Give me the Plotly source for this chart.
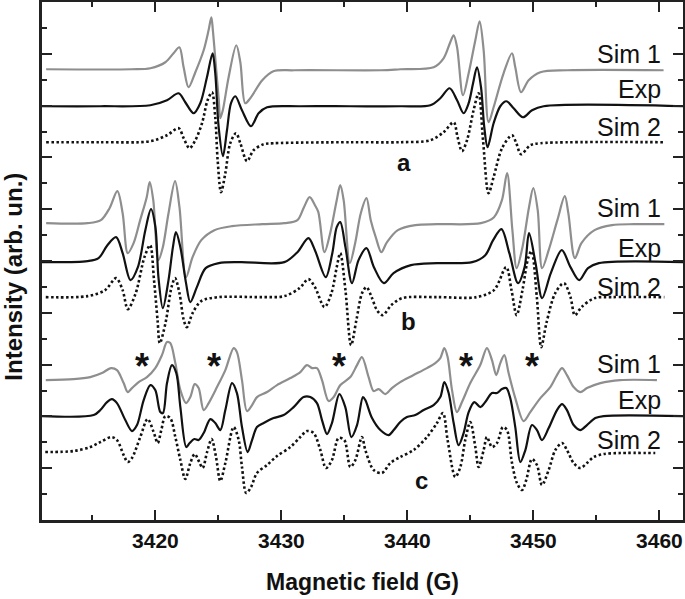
import plotly.graph_objects as go

# ---------------- Panel a ----------------
a_sim1_field = [3411.33, 3418.1, 3419.6, 3420.79, 3421.44, 3421.9, 3422.24, 3422.63, 3423.17, 3423.83, 3424.22, 3424.44,
                3424.56, 3424.81, 3425.03, 3425.15, 3425.35, 3425.81, 3426.42, 3426.74, 3427.13, 3427.53, 3428.48, 3429.36,
                3431.0, 3437.9, 3439.44, 3442.08, 3442.87, 3443.4, 3443.67, 3443.94, 3444.41, 3444.86, 3445.39, 3445.73,
                3446.05, 3446.44, 3446.84, 3447.63, 3448.3, 3448.56, 3449.02, 3449.62, 3450.55, 3452.67, 3460.33]
a_sim1_int = [451, 451, 452, 458, 467, 473, 453, 433, 448, 470, 490, 503,
              490, 453, 420, 402, 410, 443, 475, 458, 417, 422, 440, 449,
              450, 450, 451, 453, 462, 478, 485, 473, 425, 447, 480, 499,
              470, 398, 413, 447, 467, 453, 428, 440, 448, 450, 450]

a_exp_field = [3411.0, 3415.63, 3419.6, 3420.92, 3421.84, 3422.37, 3423.03, 3423.56, 3424.09, 3424.54, 3424.75, 3425.02,
               3425.36, 3425.68, 3426.0, 3426.34, 3426.87, 3427.59, 3428.19, 3428.86, 3431.5, 3435.47, 3439.44, 3441.82,
               3442.61, 3443.35, 3443.94, 3444.46, 3444.86, 3445.21, 3445.52, 3445.84, 3446.1, 3446.36, 3446.84, 3447.37,
               3447.85, 3448.43, 3449.17, 3449.89, 3450.81, 3461.9]
a_exp_int = [414, 414, 415, 420, 427, 418, 407, 417, 443, 467, 447, 393,
             364, 390, 417, 424, 410, 394, 407, 413, 414, 414, 414, 415,
             422, 432, 420, 407, 417, 437, 453, 433, 393, 373, 397, 414,
             419, 412, 403, 410, 414, 414]

a_sim2_field = [3411.33, 3415.63, 3419.6, 3420.92, 3421.84, 3422.24, 3422.71, 3423.17, 3423.7, 3424.14, 3424.49, 3424.75,
                3424.94, 3425.21, 3425.55, 3425.94, 3426.4, 3426.74, 3427.27, 3427.79, 3428.59, 3429.38, 3435.47, 3439.44,
                3441.82, 3442.87, 3443.67, 3443.98, 3444.33, 3444.73, 3445.25, 3445.65, 3446.0, 3446.44, 3446.84, 3447.51,
                3448.3, 3448.64, 3449.02, 3449.75, 3450.55, 3460.33]
a_sim2_int = [378, 378, 379, 385, 392, 382, 372, 380, 397, 420, 428, 403,
              360, 328, 347, 377, 387, 377, 359, 370, 376, 377, 378, 378,
              380, 388, 398, 383, 369, 380, 410, 427, 380, 327, 343, 372,
              385, 377, 366, 375, 377, 378]

# ---------------- Panel b ----------------
b_sim1_field = [3411.33, 3414.62, 3415.67, 3416.36, 3416.98, 3417.4, 3417.81, 3418.27, 3418.79, 3419.31, 3419.55, 3419.83,
                3420.24, 3420.59, 3421.04, 3421.56, 3421.91, 3422.43, 3422.95, 3423.64, 3424.68, 3426.07, 3428.49, 3430.23,
                3431.27, 3431.79, 3432.24, 3432.66, 3432.93, 3433.42, 3433.87, 3434.39, 3434.67, 3434.94, 3435.43, 3435.85,
                3436.3, 3436.75, 3437.09, 3437.51, 3437.93, 3438.38, 3439.24, 3440.63, 3442.36, 3445.83, 3446.87, 3447.5,
                3447.91, 3448.33, 3448.67, 3449.13, 3449.65, 3449.99, 3450.34, 3450.69, 3451.21, 3451.9, 3452.49, 3452.77,
                3453.29, 3453.81, 3454.85, 3456.23, 3457.97, 3460.39]
b_sim1_int = [297, 297, 300, 312, 329, 307, 267, 277, 300, 323, 338, 320,
              260, 273, 307, 339, 313, 243, 263, 280, 290, 294, 296, 297,
              300, 313, 323, 315, 308, 268, 287, 320, 335, 320, 257, 277,
              307, 322, 300, 282, 268, 278, 290, 295, 296, 297, 303, 320,
              347, 290, 252, 273, 313, 332, 310, 252, 270, 300, 324, 307,
              262, 277, 290, 295, 296, 296]

b_exp_field = [3411.0, 3414.62, 3415.49, 3416.19, 3416.88, 3417.4, 3418.02, 3418.61, 3419.2, 3419.65, 3420.0, 3420.24,
               3420.59, 3421.04, 3421.39, 3421.63, 3421.98, 3422.43, 3422.77, 3423.29, 3423.99, 3425.03, 3426.76, 3430.23,
               3431.27, 3432.14, 3432.66, 3433.52, 3434.04, 3434.39, 3434.67, 3435.08, 3435.6, 3436.12, 3436.75, 3437.34,
               3438.13, 3438.9, 3440.28, 3442.36, 3445.14, 3446.18, 3446.8, 3447.46, 3448.09, 3448.78, 3449.3, 3449.65,
               3450.17, 3450.69, 3451.38, 3452.25, 3452.94, 3453.63, 3454.33, 3455.19, 3461.9]
b_exp_int = [258, 259, 262, 275, 283, 267, 240, 253, 290, 311, 293, 243,
             212, 240, 273, 288, 273, 237, 218, 233, 252, 257, 258, 258,
             268, 282, 270, 243, 267, 293, 298, 273, 237, 260, 272, 253,
             237, 247, 255, 257, 258, 265, 280, 291, 267, 237, 253, 287,
             257, 222, 247, 270, 253, 240, 252, 257, 258]

b_sim2_field = [3411.3, 3414.62, 3416.01, 3416.88, 3417.4, 3417.81, 3418.44, 3419.13, 3419.58, 3419.89, 3420.17, 3420.35,
                3420.8, 3421.28, 3421.56, 3421.91, 3422.25, 3422.5, 3422.95, 3423.64, 3425.03, 3428.49, 3430.23, 3431.44,
                3432.14, 3432.66, 3433.42, 3433.97, 3434.39, 3434.67, 3435.08, 3435.53, 3435.95, 3436.4, 3436.75, 3437.16,
                3437.58, 3438.03, 3438.72, 3439.59, 3442.36, 3445.48, 3446.87, 3447.84, 3448.26, 3448.67, 3449.13, 3449.58,
                3449.85, 3450.27, 3450.62, 3451.03, 3451.73, 3452.42, 3452.94, 3453.29, 3453.81, 3454.85, 3456.23, 3460.39]
b_sim2_int = [223, 224, 230, 242, 230, 211, 227, 263, 275, 240, 200, 177,
              197, 233, 242, 227, 200, 193, 207, 219, 223, 223, 224, 232,
              241, 233, 213, 227, 253, 267, 230, 175, 200, 227, 233, 223,
              210, 205, 215, 222, 223, 223, 230, 253, 230, 205, 230, 262,
              269, 223, 173, 197, 227, 237, 223, 205, 213, 222, 223, 223]

# ---------------- Panel c ----------------
c_sim1_field = [3411.3, 3413.51, 3414.83, 3415.76, 3416.47, 3416.95, 3417.48, 3417.8, 3418.14, 3418.67, 3419.33, 3419.99,
                3420.52, 3420.92, 3421.18, 3421.58, 3421.98, 3422.43, 3422.77, 3423.12, 3423.43, 3423.83, 3424.23, 3424.89,
                3425.55, 3426.21, 3426.47, 3426.87, 3427.27, 3427.67, 3428.06, 3428.86, 3429.65, 3430.71, 3431.5, 3432.03,
                3432.43, 3432.82, 3433.22, 3433.75, 3434.15, 3434.68, 3435.47, 3436.0, 3436.39, 3436.92, 3437.32, 3437.72,
                3438.24, 3438.77, 3439.43, 3440.49, 3441.55, 3442.21, 3442.61, 3442.93, 3443.19, 3443.54, 3443.93, 3444.33,
                3444.99, 3445.78, 3446.31, 3446.71, 3447.05, 3447.37, 3447.69, 3448.03, 3448.56, 3449.22, 3449.75, 3450.55,
                3451.34, 3451.87, 3452.27, 3452.66, 3453.19, 3453.72, 3454.25, 3455.31, 3456.89, 3459.8]
c_sim1_int = [140, 141, 143, 147, 152, 150, 137, 128, 132, 138, 143, 152,
              165, 178, 177, 157, 130, 117, 123, 136, 132, 110, 117, 133,
              150, 172, 168, 140, 109, 115, 123, 128, 135, 142, 148, 155,
              152, 152, 140, 119, 123, 135, 143, 155, 163, 143, 129, 131,
              126, 132, 138, 145, 152, 157, 162, 172, 163, 130, 108, 118,
              137, 155, 172, 160, 145, 157, 165, 147, 122, 99, 108, 122,
              133, 145, 152, 145, 133, 128, 132, 137, 140, 140]

c_exp_field = [3411.0, 3415.1, 3415.63, 3416.16, 3416.55, 3416.95, 3417.61, 3418.14, 3418.54, 3419.07, 3419.6, 3419.99,
               3420.39, 3420.6, 3420.92, 3421.31, 3421.66, 3421.98, 3422.45, 3422.72, 3423.09, 3423.43, 3423.83, 3424.36,
               3424.75, 3425.15, 3425.55, 3426.08, 3426.47, 3426.87, 3427.32, 3427.67, 3428.06, 3428.59, 3429.38, 3430.18,
               3430.97, 3431.76, 3432.29, 3432.82, 3433.22, 3433.62, 3434.01, 3434.6, 3435.07, 3435.55, 3436.0, 3436.47,
               3436.66, 3437.19, 3437.85, 3438.51, 3438.91, 3439.43, 3439.96, 3440.63, 3441.29, 3442.08, 3442.61, 3442.93,
               3443.27, 3443.67, 3444.06, 3444.46, 3444.86, 3445.31, 3445.78, 3446.18, 3446.71, 3447.11, 3447.5, 3447.85,
               3448.16, 3448.56, 3448.96, 3449.36, 3449.88, 3450.28, 3450.68, 3451.21, 3451.87, 3452.27, 3452.66, 3453.19,
               3453.72, 3454.25, 3454.91, 3455.57, 3461.9]
c_exp_int = [104, 105, 110, 118, 121, 117, 100, 89, 95, 120, 135, 130,
             108, 107, 137, 155, 147, 113, 73, 77, 81, 80, 87, 101,
             97, 90, 110, 137, 127, 93, 68, 80, 93, 97, 102, 105,
             113, 123, 123, 117, 100, 86, 97, 126, 113, 83, 95, 123,
             120, 102, 90, 85, 90, 98, 103, 105, 110, 115, 123, 138,
             127, 97, 75, 87, 108, 118, 113, 118, 127, 127, 131, 132,
             122, 93, 58, 70, 95, 90, 80, 92, 110, 116, 110, 95,
             90, 95, 102, 104, 104]

c_sim2_field = [3411.26, 3413.51, 3414.83, 3415.63, 3416.5, 3416.95, 3417.48, 3417.8, 3418.14, 3418.8, 3419.38, 3419.86,
                3420.18, 3420.47, 3420.79, 3421.18, 3421.58, 3421.98, 3422.37, 3422.77, 3423.12, 3423.48, 3423.75, 3424.1,
                3424.46, 3424.81, 3425.15, 3425.55, 3426.21, 3426.61, 3426.87, 3427.21, 3427.59, 3428.06, 3428.86, 3429.65,
                3430.71, 3431.5, 3432.03, 3432.56, 3433.09, 3433.54, 3434.01, 3434.54, 3434.99, 3435.47, 3435.87, 3436.39,
                3436.66, 3437.32, 3437.98, 3438.64, 3439.43, 3440.49, 3441.55, 3442.34, 3442.82, 3443.19, 3443.8, 3444.2,
                3444.59, 3444.99, 3445.39, 3445.65, 3446.05, 3446.31, 3446.71, 3447.11, 3447.58, 3447.9, 3448.3, 3448.69,
                3449.09, 3449.43, 3449.88, 3450.28, 3450.68, 3451.21, 3451.74, 3452.27, 3452.66, 3453.19, 3453.72, 3454.25,
                3454.78, 3455.57, 3456.89, 3459.67]
c_sim2_int = [68, 69, 73, 78, 83, 80, 65, 58, 62, 83, 101, 88,
              77, 90, 104, 102, 83, 60, 41, 57, 66, 58, 52, 68,
              81, 63, 39, 57, 93, 80, 53, 27, 33, 47, 55, 64,
              73, 83, 89, 87, 70, 52, 60, 82, 80, 53, 60, 83,
              70, 50, 47, 57, 63, 70, 83, 97, 107, 80, 43, 53,
              80, 98, 73, 53, 70, 83, 73, 77, 93, 90, 57, 37,
              30, 40, 61, 55, 35, 50, 70, 77, 70, 57, 52, 57,
              63, 66, 67, 67]

# ---------------- Labels ----------------
panel_letters = ["a", "b", "c"]
letter_field = [3439.75, 3440.11, 3441.1]
letter_int = [358, 199, 40]

trace_names = ["Sim 1", "Exp", "Sim 2"]
name_int = [[466, 431, 393], [312, 272, 233], [156, 120, 80]]
name_field_right = 3460.3

star_field = [3418.94, 3424.62, 3434.6, 3444.67, 3449.89]
star_int = 154

GRAY = "#8e8e8e"
BLACK = "#111111"
AXC = "#222222"

fig = go.Figure()

def add(field, inten, kind):
    if kind == "sim1":
        line = dict(color=GRAY, width=2.2, shape="spline", smoothing=0.9)
    elif kind == "exp":
        line = dict(color=BLACK, width=2.2, shape="spline", smoothing=0.9)
    else:
        line = dict(color=BLACK, width=2.6, dash="2.5px,2.5px", shape="spline", smoothing=0.9)
    fig.add_trace(go.Scatter(x=field, y=inten, mode="lines", line=line,
                             showlegend=False, hoverinfo="skip"))

add(a_sim1_field, a_sim1_int, "sim1")
add(a_exp_field, a_exp_int, "exp")
add(a_sim2_field, a_sim2_int, "sim2")
add(b_sim1_field, b_sim1_int, "sim1")
add(b_exp_field, b_exp_int, "exp")
add(b_sim2_field, b_sim2_int, "sim2")
add(c_sim1_field, c_sim1_int, "sim1")
add(c_exp_field, c_exp_int, "exp")
add(c_sim2_field, c_sim2_int, "sim2")

LABEL_FONT = "Liberation Sans Narrow, Arial Narrow, Liberation Sans, Arial, sans-serif"
BOLD_FONT = "Liberation Sans Narrow, Arial Narrow, Liberation Sans, Arial, sans-serif"

annotations = []
for i, rows in enumerate(name_int):
    for name, yv in zip(trace_names, rows):
        annotations.append(dict(x=name_field_right, y=yv, xref="x", yref="y", text=name,
                                showarrow=False, xanchor="right", yanchor="middle",
                                font=dict(family=LABEL_FONT, size=25, color=BLACK)))
for t, xv, yv in zip(panel_letters, letter_field, letter_int):
    annotations.append(dict(x=xv, y=yv, xref="x", yref="y", text=t, showarrow=False,
                            xanchor="center", yanchor="middle",
                            font=dict(family=BOLD_FONT, size=24, color=BLACK, weight="bold")))
for xv in star_field:
    annotations.append(dict(x=xv, y=star_int, xref="x", yref="y", text="*", showarrow=False,
                            xanchor="center", yanchor="middle",
                            font=dict(family=BOLD_FONT, size=36, color=BLACK, weight="bold")))

annotations.append(dict(x=0.5, y=-0.12, xref="paper", yref="paper", text="Magnetic field (G)",
                        showarrow=False, xanchor="center", yanchor="middle",
                        font=dict(family=BOLD_FONT, size=23, color=BLACK, weight="bold")))
annotations.append(dict(x=-0.045, y=0.47, xref="paper", yref="paper", text="Intensity (arb. un.)",
                        textangle=-90, showarrow=False, xanchor="center", yanchor="middle",
                        font=dict(family=BOLD_FONT, size=24, color=BLACK, weight="bold")))

fig.update_layout(
    width=685, height=599,
    margin=dict(l=42, r=2, t=2, b=79),
    plot_bgcolor="white", paper_bgcolor="white",
    annotations=annotations,
    xaxis=dict(range=[3411.0, 3461.87], tickmode="linear", tick0=3420, dtick=10,
               ticks="inside", ticklen=10, tickwidth=2, tickcolor=AXC,
               minor=dict(ticks="inside", ticklen=5, tickwidth=2, tickcolor=AXC, dtick=5, tick0=3415),
               showline=True, linewidth=2.5, linecolor=AXC, mirror="ticks",
               showgrid=False, zeroline=False, automargin=False,
               tickfont=dict(family=BOLD_FONT, size=21, color=BLACK, weight="bold")),
    yaxis=dict(range=[0, 518.3], tickmode="linear", tick0=0, dtick=51.83,
               ticks="inside", ticklen=10, tickwidth=2, tickcolor=AXC,
               minor=dict(ticks="inside", ticklen=5, tickwidth=2, tickcolor=AXC, dtick=25.915),
               showline=True, linewidth=2.5, linecolor=AXC, mirror="ticks",
               showgrid=False, zeroline=False, showticklabels=False, automargin=False),
)

fig.write_html("out.html", config={"displayModeBar": False},
               post_script="document.body.style.margin='0';document.body.style.overflow='hidden';")
